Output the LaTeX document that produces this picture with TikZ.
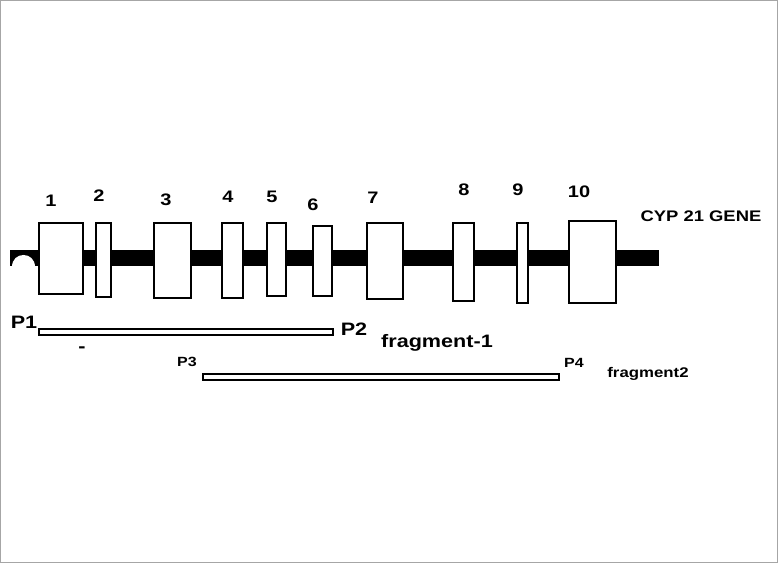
\documentclass[tikz,border=0pt]{standalone}
\usepackage{fontspec}
\setmainfont{Liberation Sans}[FakeStretch=1.2]
\usetikzlibrary{positioning}

\tikzset{
  exonbox/.style={draw=black,fill=white,line width=1.1pt},
  fragbar/.style={draw=black,fill=white,line width=0.9pt},
  exonlbl/.style={font=\bfseries\fontsize{12.5}{14}\selectfont,inner sep=0pt},
  primerbig/.style={font=\bfseries\fontsize{13.5}{15}\selectfont,inner sep=0pt},
  primersmall/.style={font=\bfseries\fontsize{10}{12}\selectfont,inner sep=0pt}
}

\begin{document}
\begin{tikzpicture}[x=0.75pt,y=-0.75pt]
        \useasboundingbox (0,0) rectangle (778,563);
        \draw[gray!70,line width=0.9pt] (0.6,0.6) rectangle (777.4,562.4);
        % gene backbone
        \fill[black] (10,250) rectangle (659,266);
        \fill[white] (12,267) .. controls (12,251) and (35,251) .. (35,267) -- cycle;
        % exons: left/right/top/bottom/label x/label y/number
        \foreach \xa/\xb/\ya/\yb/\lx/\ly/\num in {
            39/83/223/294/51/201/1, 96/111/223/297/99/196/2,
            154/191/223/298/166/200/3, 222/243/223/298/228/197/4,
            267/286/223/296/272/197/5, 313/332/226/296/313/205/6,
            367/403/223/299/373/198/7, 453/474/223/301/464/190/8,
            517/528/223/303/518/190/9, 569/616/221/303/579/192/10} {
            \draw[exonbox] (\xa,\ya) rectangle (\xb,\yb);
            \node[exonlbl] (exlbl\num) at (\lx,\ly) {\num};
        }
        \node[font=\bfseries\fontsize{11.5}{13}\selectfont,inner sep=0pt] (gene) at (701,216) {CYP 21 GENE};
        % fragment 1
        \coordinate (f1a) at (39,329);
        \coordinate (f1b) at (333,335);
        \draw[fragbar] (f1a) rectangle (f1b);
        \node[primerbig] (p1) at (24,322) {P1};
        \node[primerbig] (p2) at (354,329) {P2};
        \node[primerbig] (frag1) at (437,343) {fragment-1};
        \node[primerbig] (dash) at (82,350) {-};
        % fragment 2
        \coordinate (f2a) at (203,374);
        \coordinate (f2b) at (559,380);
        \draw[fragbar] (f2a) rectangle (f2b);
        \node[primersmall] (p3) at (187,362) {P3};
        \node[primersmall] (p4) at (574,363) {P4};
        \node[font=\bfseries\fontsize{10.5}{12}\selectfont,inner sep=0pt] (frag2) at (648,374) {fragment2};
    \end{tikzpicture}
\end{document}
